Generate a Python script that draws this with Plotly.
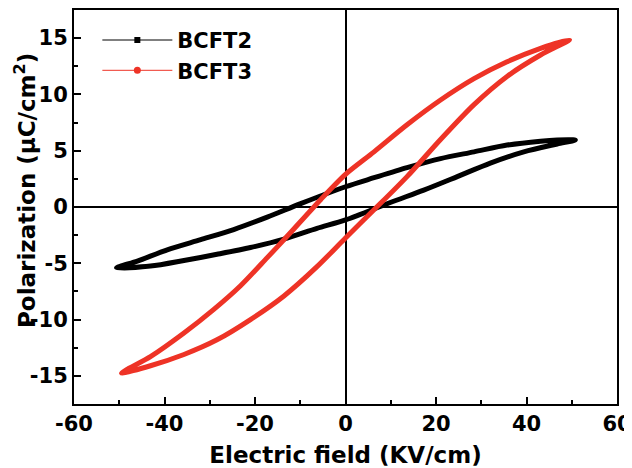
import plotly.graph_objects as go

# BCFT2 loop: upper branch (E decreasing) then lower branch (E increasing)
bcft2_E = [50.8, 46.8, 43.1, 35.7, 28.4, 21.0, 13.6, 6.3, 0.0, -9.9, -17.3, -24.7, -32.0, -39.4, -46.0, -50.6,
           -43.1, -35.7, -28.4, -21.0, -13.6, -6.3, 0.0, 9.9, 17.3, 24.7, 32.0, 39.4, 46.8, 50.8]
bcft2_P = [5.95, 5.95, 5.85, 5.5, 4.9, 4.3, 3.5, 2.6, 1.8, 0.3, -0.9, -2.0, -2.9, -3.8, -4.8, -5.4,
           -5.25, -4.75, -4.2, -3.6, -2.85, -1.9, -1.15, 0.4, 1.5, 2.7, 3.9, 4.9, 5.6, 5.95]

# BCFT3 loop
bcft3_E = [49.5, 43.1, 35.7, 28.4, 21.0, 13.6, 6.3, 0.0, -5.5, -12.9, -17.3, -23.2, -29.1, -35.7, -43.1, -49.5,
           -43.1, -35.7, -28.4, -21.0, -13.6, -6.3, 0.0, 6.3, 13.6, 21.0, 28.4, 35.7, 43.1, 49.5]
bcft3_P = [14.85, 14.1, 12.9, 11.4, 9.5, 7.3, 4.9, 2.9, 0.65, -2.6, -4.5, -7.0, -9.1, -11.2, -13.3, -14.75,
           -14.1, -13.1, -11.8, -10.0, -7.9, -5.3, -2.75, -0.25, 2.7, 6.0, 9.1, 11.6, 13.5, 14.85]

series_names = ["BCFT2", "BCFT3"]
x_ticks = [-60, -40, -20, 0, 20, 40, 60]
x_ticktext = ["-60", "-40", "-20", "0", "20", "40", "60"]
y_ticks = [-15, -10, -5, 0, 5, 10, 15]
y_ticktext = ["-15", "-10", "-5", "0", "5", "10", "15"]
x_title = "Electric field (KV/cm)"
y_title = "Polarization (μC/cm<sup>2</sup>)"

BLACK = "#000000"
RED = "#EE3326"
FONT = "DejaVu Sans, Arial, sans-serif"

fig = go.Figure()
for E, P, c in [(bcft2_E, bcft2_P, BLACK), (bcft3_E, bcft3_P, RED)]:
    fig.add_trace(go.Scatter(x=E, y=P, mode="lines", showlegend=False,
                             line=dict(color=c, width=5, shape="spline", smoothing=0.8)))

# legend entries
fig.add_trace(go.Scatter(x=[None], y=[None], mode="lines+markers", name=series_names[0],
                         legendgroup="a",
                         line=dict(color=BLACK, width=1), marker=dict(symbol="square", size=6, color=BLACK)))
fig.add_trace(go.Scatter(x=[None], y=[None], mode="lines+markers", name=series_names[1],
                         legendgroup="b",
                         line=dict(color=RED, width=1), marker=dict(symbol="circle", size=7, color=RED)))

axis_common = dict(
    showline=True, linecolor="black", linewidth=2, mirror=True,
    ticks="inside", ticklen=7, tickwidth=1.5, tickcolor="black",
    showgrid=False, zeroline=True, zerolinecolor="black", zerolinewidth=1.5,
    automargin=False,
    tickfont=dict(family=FONT, size=21, color="black", weight="bold"),
)

fig.update_xaxes(range=[-60, 60], tickvals=x_ticks, ticktext=x_ticktext,
                 minor=dict(dtick=10, ticks="inside", ticklen=4, tickwidth=1.5, tickcolor="black"),
                 title=dict(text=x_title, standoff=12,
                            font=dict(family=FONT, size=23, color="black", weight="bold")),
                 **axis_common)
fig.update_yaxes(range=[-17.5, 17.5], tickvals=y_ticks, ticktext=y_ticktext,
                 minor=dict(dtick=2.5, ticks="inside", ticklen=4, tickwidth=1.5, tickcolor="black"),
                 **axis_common)

fig.add_annotation(text=y_title, xref="paper", yref="paper", x=0, y=0.5,
                   xanchor="center", yanchor="middle", xshift=-49, yshift=16,
                   textangle=-90, showarrow=False,
                   font=dict(family=FONT, size=23, color="black", weight="bold"))

# page body has an 8px default margin, so the figure is offset by 8px
fig.update_layout(
    width=632, height=468,
    margin=dict(l=66, r=23, t=2, b=72),
    paper_bgcolor="white", plot_bgcolor="white",
    showlegend=True,
    legend=dict(x=0.043, y=0.975, xanchor="left", yanchor="top",
                bgcolor="rgba(0,0,0,0)", itemwidth=70, tracegroupgap=0,
                font=dict(family=FONT, size=21, color="black", weight="bold")),
)

fig.write_html("out.html")
